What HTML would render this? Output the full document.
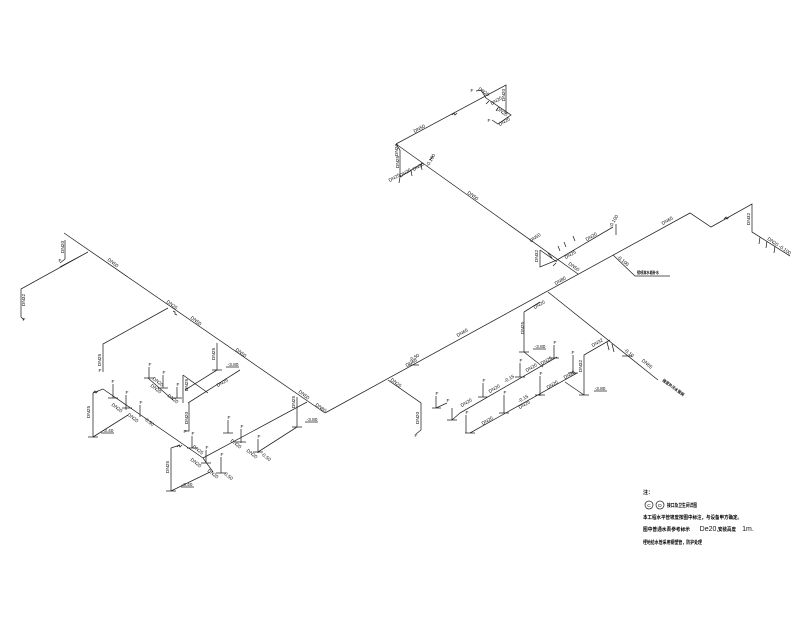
<!DOCTYPE html>
<html><head><meta charset="utf-8"><style>
html,body{margin:0;padding:0;background:#fff}
svg{display:block}
.l{fill:none;stroke:#222;stroke-width:.75}
text{font-family:"Liberation Sans",sans-serif;font-size:4.8px;fill:#111;text-anchor:middle}
.f{font-size:5px}
.c{font-family:"Liberation Sans","Noto Sans CJK SC",sans-serif;font-size:5px;font-weight:700;fill:#000;text-anchor:start}
.t{font-family:"Liberation Sans","Noto Sans CJK SC",sans-serif;font-size:4px;font-weight:700;fill:#000;text-anchor:start}
</style></head><body>
<svg width="800" height="640" viewBox="0 0 800 640" xmlns="http://www.w3.org/2000/svg">
<g class="l">
<!-- top group -->
<path d="M396 144L506 85V114M486 98L511 115L498 124L492 120M476 91L481 90L486 98M396 144L400 150V177L423 163M396 144L578 274"/>
<path d="M400 177l-1 6M411 170l1 6M421 164l1 6M430 160l3-4M489 101l-3 3M498 108l-2 3M540 250V267L557 260L613 227M540 250L557 262"/>
<path d="M560 251l-2-5M566 247l-2-5M575 241l-2-5M556 263l-3 3M552 258l-4-5M616 224V235"/>
<!-- main -->
<path d="M325 413L690 213L711 227L752 204V232L790 256"/>
<path d="M760 237l-1 7M767 241l-1 7M775 246l-1 7M613 255L635 276H670M548 292L658 380M607 342l2 8M612 344l2 8"/>
<path d="M452 115l2-2 1 2 2-2M173 311l2 1 0 2 2 1M724 219l2-2 1 2 2-2M93 393l2-2 1 2 2-2M177 447l2-2 1 2 2-2"/>
<!-- left -->
<path d="M64 233L325 413M65 240V259L60 263M88 252L60 267M88 252L21 289V317L24 320M168 308L103 344V372"/>
<!-- group a -->
<path d="M93 393L103 389L203 458L213 472M93 393V437M88 437H98M93 437L128 415M113 384V398M126 395V410M140 405V417M108 398H118M122 408H132"/>
<path d="M203 458L307 402M183 375V403M183 375L208 393M188 403L240 370M189 403V431H185M217 343V370M217 370L185 390M212 370H222"/>
<path d="M148 378L173 400M149 367V378M163 375V388M177 387V398M144 378H154M158 388H168M172 398H182"/>
<!-- group b -->
<path d="M171 448V491M171 448L180 445M166 491H176M171 491L210 472M192 436V448M206 450V463M221 457V473M187 448H197M201 463H211M216 473H226M228 420V433M223 433H233M241 429V443M236 442H246M258 439V453M253 452H263"/>
<path d="M297 397V427M292 427H302M297 427L258 452"/>
<!-- right -->
<path d="M388 380L421 403V430L416 434M524 312L540 302M524 312V352M519 352H529M524 352L543 367"/>
<path d="M460 413L557 357M436 396V408M432 408H441M436 408L447 403M452 408V420M447 420H457M452 420L460 413M483 383V397M478 397H488M520 363V377M515 377H525M554 345V358M549 358H559"/>
<path d="M470 433L577 373M465 433H475M466 415V433M504 395V413M499 413H509M540 376V396M535 395H545M565 382L584 395M579 395H589M584 395V355L610 340M573 355V373M568 373H578"/>
</g>
<g class="l"><path d="M101 433H114M181 487H194M226 367H239M305 422H318M533 349H546M594 391H607M622 356H632M409 365H419"/></g>
<!-- F tags -->
<g class="f">
<text x="113" y="383">F</text><text x="127" y="394">F</text><text x="141" y="404">F</text>
<text x="150" y="366">F</text><text x="164" y="374">F</text><text x="178" y="386">F</text>
<text x="193" y="435">F</text><text x="207" y="449">F</text><text x="222" y="456">F</text>
<text x="229" y="419">F</text><text x="242" y="428">F</text><text x="259" y="438">F</text>
<text x="437" y="395">F</text><text x="448" y="402">F</text><text x="467" y="414">F</text>
<text x="484" y="382">F</text><text x="521" y="362">F</text><text x="555" y="344">F</text>
<text x="505" y="394">F</text><text x="541" y="375">F</text><text x="573" y="354">F</text>
<text x="24" y="321">F</text><text x="60" y="262">F</text><text x="100" y="372">F</text><text x="185" y="433">F</text><text x="416" y="437">F</text>
<text x="472" y="92">F</text><text x="489" y="122">F</text>
</g>
<!-- labels -->
<g>
<text transform="translate(420 130) rotate(-28)">DN50</text>
<text transform="translate(483 93) rotate(34)">DN20</text>
<text transform="translate(505 95) rotate(-90)">DN20</text>
<text transform="translate(497 102) rotate(-30)">DN20</text>
<text transform="translate(501 113) rotate(35)">DN20</text>
<text transform="translate(505 123) rotate(-30)">DN20</text>
<text transform="translate(398 150) rotate(-90)">DN20</text>
<text transform="translate(399 162) rotate(-90)">DN25</text>
<text transform="translate(395 179) rotate(-30)">DN25</text>
<text transform="translate(406 174) rotate(-30)">DN20</text>
<text transform="translate(419 168) rotate(-30)">DN20</text>
<text transform="translate(432 161) rotate(-60)">-0.100</text>
<text transform="translate(472 197) rotate(36)">DN50</text>
<text transform="translate(536 239) rotate(-35)">DN50</text>
<text transform="translate(538 256) rotate(-90)">DN32</text>
<text transform="translate(571 256) rotate(-30)">DN25</text>
<text transform="translate(573 268) rotate(35)">DN50</text>
<text transform="translate(592 238) rotate(-30)">DN20</text>
<text transform="translate(561 282) rotate(-30)">DN80</text>
<text transform="translate(668 222) rotate(-30)">DN65</text>
<text transform="translate(750 219) rotate(-90)">DN32</text>
<text transform="translate(772 243) rotate(35)">DN20</text>
<text transform="translate(784 251) rotate(35)">-0.100</text>
<text transform="translate(615 222) rotate(-60)">-0.100</text>
<text transform="translate(622 262) rotate(40)">-0.100</text>
<text class="t" x="637" y="274" textLength="22" lengthAdjust="spacingAndGlyphs">接喷淋水箱补水</text>
<text transform="translate(64 247) rotate(-90)">DN20</text>
<text transform="translate(25 300) rotate(-90)">DN32</text>
<text transform="translate(112 264) rotate(38)">DN50</text>
<text transform="translate(171 306) rotate(38)">DN25</text>
<text transform="translate(195 322) rotate(38)">DN50</text>
<text transform="translate(101 360) rotate(-90)">DN25</text>
<text transform="translate(215 354) rotate(-90)">DN25</text>
<text x="233" y="366">-3.80</text>
<text transform="translate(223 384) rotate(-30)">DN25</text>
<text transform="translate(240 354) rotate(38)">DN50</text>
<text transform="translate(303 396) rotate(38)">DN50</text>
<text transform="translate(320 409) rotate(35)">DN80</text>
<text transform="translate(295 402) rotate(-90)">DN25</text>
<text x="312" y="421">-3.80</text>
<text transform="translate(188 385) rotate(-90)">DN25</text>
<text transform="translate(188 418) rotate(-90)">DN20</text>
<text transform="translate(157 383) rotate(38)">DN20</text>
<text transform="translate(155 390) rotate(38)">DN20</text>
<text transform="translate(172 400) rotate(38)">DN20</text>
<text transform="translate(90 412) rotate(-90)">DN25</text>
<text transform="translate(116 409) rotate(38)">DN20</text>
<text transform="translate(132 419) rotate(38)">DN20</text>
<text transform="translate(148 423) rotate(38)">-0.50</text>
<text x="108" y="432">-3.40</text>
<text transform="translate(169 467) rotate(-90)">DN25</text>
<text transform="translate(197 451) rotate(38)">DN25</text>
<text transform="translate(195 464) rotate(38)">DN20</text>
<text transform="translate(212 475) rotate(38)">DN20</text>
<text transform="translate(227 477) rotate(38)">-0.50</text>
<text x="187" y="486">-3.40</text>
<text transform="translate(235 445) rotate(38)">DN20</text>
<text transform="translate(251 455) rotate(38)">DN20</text>
<text transform="translate(265 458) rotate(38)">-0.50</text>
<text transform="translate(463 334) rotate(-30)">DN65</text>
<text transform="translate(415 359) rotate(-30)">-0.50</text>
<text transform="translate(412 364) rotate(-30)">DN65</text>
<text transform="translate(395 384) rotate(38)">DN25</text>
<text transform="translate(419 418) rotate(-90)">DN20</text>
<text transform="translate(524 328) rotate(-90)">DN25</text>
<text transform="translate(540 306) rotate(-30)">DN20</text>
<text x="540" y="348">-3.80</text>
<text transform="translate(467 404) rotate(-30)">DN20</text>
<text transform="translate(495 390) rotate(-30)">DN20</text>
<text transform="translate(510 380) rotate(-30)">-0.15</text>
<text transform="translate(532 369) rotate(-30)">DN20</text>
<text transform="translate(547 362) rotate(-30)">DN25</text>
<text transform="translate(488 422) rotate(-30)">DN20</text>
<text transform="translate(525 406) rotate(-30)">DN25</text>
<text transform="translate(524 400) rotate(-30)">-0.15</text>
<text transform="translate(553 386) rotate(-30)">DN20</text>
<text transform="translate(570 376) rotate(-30)">DN25</text>
<text transform="translate(582 366) rotate(-90)">DN32</text>
<text transform="translate(598 344) rotate(-30)">DN32</text>
<text x="600" y="390">-3.80</text>
<text transform="translate(628 354) rotate(40)">-0.10</text>
<text transform="translate(646 365) rotate(40)">DN65</text>
<text class="t" transform="translate(662 381) rotate(36)" textLength="26" lengthAdjust="spacingAndGlyphs">接室外污水管网</text>
<text class="c" x="643" y="494">注：</text>
<text class="c" x="667" y="507" textLength="30" lengthAdjust="spacingAndGlyphs">接口及卫生间详图</text>
<text class="c" x="643" y="519" textLength="99" lengthAdjust="spacingAndGlyphs">本工程水平管坡度按图中标注，与设备甲方确定。</text>
<text class="c" x="643" y="531" textLength="47" lengthAdjust="spacingAndGlyphs">图中普通水表参考标示</text>
<text x="709" y="531" style="font-size:7px">De20,</text>
<text class="c" x="718" y="531" textLength="18" lengthAdjust="spacingAndGlyphs">安装高度</text>
<text x="748" y="531" style="font-size:7px">1m.</text>
<text class="c" x="643" y="544" textLength="59" lengthAdjust="spacingAndGlyphs">埋地给水管采用钢塑管，防护处理</text>
</g>
<circle cx="649" cy="505" r="4" class="l"/><circle cx="660" cy="505" r="4" class="l"/>
<text x="649" y="507">C</text><text x="660" y="507">D</text>
</svg>
</body></html>
